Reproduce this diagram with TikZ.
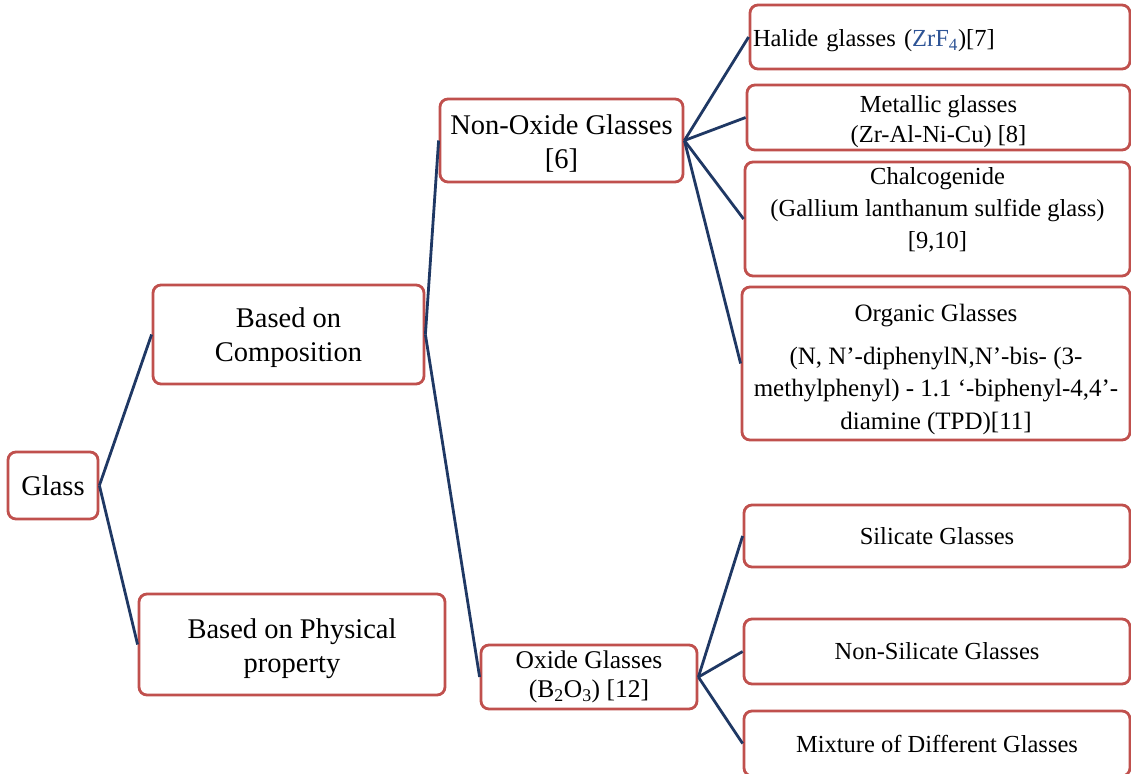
\documentclass[tikz,border=0pt]{standalone}
\usepackage{fontspec}
\setmainfont{Liberation Serif}
\definecolor{boxred}{RGB}{192,80,77}
\definecolor{navy}{RGB}{31,56,100}
\definecolor{zrblue}{RGB}{46,84,150}
\newcommand{\pushdown}[1]{\rule{0pt}{#1}}
\tikzset{
  box/.style={draw=boxred, line width=2.8pt, rounded corners=8pt, fill=white, inner sep=0pt, align=center},
  big/.style={font=\fontsize{28.5}{34}\selectfont},
  small/.style={font=\fontsize{24.5}{29.5}\selectfont},
  link/.style={draw=navy, line width=2.8pt}
}
\begin{document}
\begin{tikzpicture}[x=1pt,y=-1pt]
\useasboundingbox (0,0) rectangle (1131,773);
\fill[white] (0,0) rectangle (1131,773);
% boxes
\node[box,big,minimum width=90pt,minimum height=67pt] (glass) at (53,485.5) {Glass};
\node[box,big,minimum width=271pt,minimum height=99pt] (comp) at (288.5,334.5) {\pushdown{26pt}Based on\\Composition};
\node[box,big,minimum width=306pt,minimum height=101pt] (phys) at (292,644.5) {\pushdown{27.5pt}Based on Physical\\property};
\node[box,big,minimum width=243pt,minimum height=83pt] (nonox) at (561.5,140.5) {\pushdown{26pt}Non-Oxide Glasses\\{}[6]};
\node[box,font=\fontsize{25.5}{29.5}\selectfont,minimum width=216pt,minimum height=64pt] (oxide) at (589,677) {Oxide Glasses\\(B\textsubscript{2}O\textsubscript{3}) [12]};
\node[box,small,minimum width=380pt,minimum height=64pt,text width=374pt,align=left] (halide) at (940,37) {\pushdown{24pt}Halide glasses (\textcolor{zrblue}{ZrF\textsubscript{4}})[7]};
\node[box,small,minimum width=383pt,minimum height=65pt] (metal) at (938.5,117.5) {\pushdown{25pt}Metallic glasses\\(Zr-Al-Ni-Cu) [8]};
\node[box,minimum width=385pt,minimum height=114pt] (chal) at (937.5,219) {};
\node[font=\fontsize{24.5}{32}\selectfont,align=center] (chaltext) at (937.5,210) {Chalcogenide\\(Gallium lanthanum sulfide glass)\\{}[9,10]};
\node[box,font=\fontsize{25}{32.5}\selectfont,minimum width=388pt,minimum height=153pt] (org) at (936,363.5) {\pushdown{29pt}Organic Glasses\\[10pt](N, N’-diphenylN,N’-bis- (3-\\methylphenyl) - 1.1 ‘-biphenyl-4,4’-\\diamine (TPD)[11]};
\node[box,small,minimum width=386pt,minimum height=62pt] (sil) at (937,536) {Silicate Glasses};
\node[box,small,minimum width=386pt,minimum height=65pt] (nonsil) at (937,651.5) {Non-Silicate Glasses};
\node[box,small,minimum width=386pt,minimum height=65pt] (mix) at (937,743.5) {Mixture of Different Glasses};
% connectors
\path[link] (glass.east) -- (comp.west);
\path[link] (glass.east) -- (phys.west);
\path[link] (comp.east) -- (nonox.west);
\path[link] (comp.east) -- (oxide.west);
\path[link] (nonox.east) -- (halide.west);
\path[link] (nonox.east) -- (metal.west);
\path[link] (nonox.east) -- (chal.west);
\path[link] (nonox.east) -- (org.west);
\path[link] (oxide.east) -- (sil.west);
\path[link] (oxide.east) -- (nonsil.west);
\path[link] (oxide.east) -- (mix.west);
\end{tikzpicture}
\end{document}
